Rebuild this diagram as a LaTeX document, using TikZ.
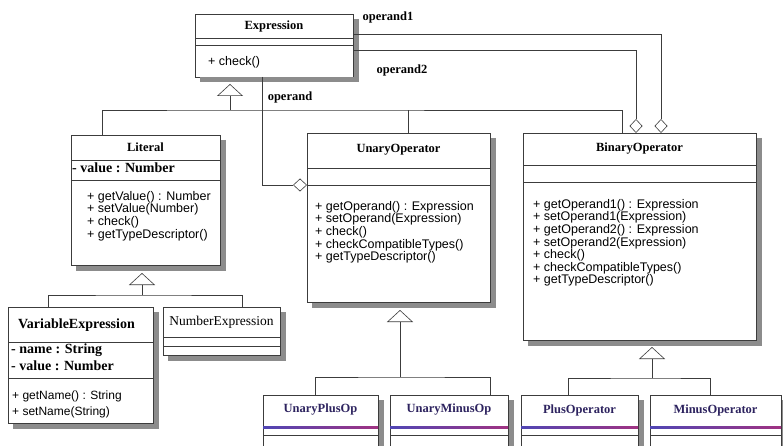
\documentclass[tikz,border=0pt]{standalone}
\usepackage{fontspec}
\setmainfont{Liberation Serif}
\setsansfont{Liberation Sans}
\usetikzlibrary{arrows.meta}

\definecolor{viiva}{RGB}{60,60,60}
\definecolor{tumma}{RGB}{45,35,95}
\definecolor{sini}{RGB}{80,70,180}
\definecolor{violetti}{RGB}{160,50,130}
\definecolor{varjo}{RGB}{140,140,140}

\begin{document}
\begin{tikzpicture}[x=1pt,y=-1pt,
  cls/.style={draw=viiva, line width=0.7pt, fill=white, inner sep=0pt, outer sep=0pt, anchor=north west},
  nimi/.style={font=\fontsize{12.5}{14}\bfseries\selectfont, inner sep=0pt},
  attr/.style={font=\fontsize{14}{17}\bfseries\selectfont, align=left, anchor=north west, inner sep=0pt},
  meto/.style={font=\fontsize{12.5}{12.6}\sffamily\selectfont, align=left, anchor=north west, inner sep=0pt},
  rooli/.style={font=\fontsize{12.5}{14}\bfseries\selectfont, inner sep=0pt},
  conn/.style={draw=viiva, line width=0.6pt},
  varjoviiva/.style={draw=varjo, line width=5pt, miter limit=10},
  gen/.style={conn, -{Triangle[open, length=12pt, width=26pt]}},
  agg/.style={conn, -{Diamond[open, length=14pt, width=13pt]}}]
\newcommand\luokka[5]{
\node[cls, minimum width=#4, minimum height=#5] (#1) at (#2,#3) {};
\draw[varjoviiva] ([xshift=3pt,yshift=-5pt]#1.north east) -- ([xshift=3pt,yshift=-3pt]#1.south east) -- ([xshift=5pt,yshift=-3pt]#1.south west);
}
\newcommand\lokero[2]{
\draw[conn] ([yshift=-#2]#1.north west) -- ([yshift=-#2]#1.north east);
}
\newcommand\vari[1]{
\shade[left color=sini, right color=violetti] ([yshift=-31.5]#1.north west) rectangle ([yshift=-33]#1.north east);
\lokero{#1}{40}
}
\clip (0,0) rectangle (783,446);
\fill[white] (0,0) rectangle (783,446);

% classes
\luokka{expr}{195}{14}{158}{63}
\luokka{lit}{71}{135}{149}{130}
\luokka{unary}{307}{133}{183}{169}
\luokka{binary}{523}{133}{233}{207}
\luokka{varexpr}{8}{307}{145}{116}
\luokka{numexpr}{163}{307}{117}{48}
\luokka{uplus}{263}{395}{115}{60}
\luokka{uminus}{390}{395}{118}{60}
\luokka{plusop}{521}{395}{117}{60}
\luokka{minusop}{650}{395}{131}{60}

\lokero{expr}{24}
\lokero{expr}{31}
\lokero{lit}{25}
\lokero{lit}{45}
\lokero{unary}{35}
\lokero{unary}{52}
\lokero{binary}{32}
\lokero{binary}{49}
\lokero{varexpr}{35}
\lokero{varexpr}{71}
\lokero{numexpr}{30}
\lokero{numexpr}{39}
\vari{uplus}
\vari{uminus}
\vari{plusop}
\vari{minusop}

% names
\node[nimi] (n1) at ([yshift=-12]expr.north) {Expression};
\node[nimi] (n2) at ([yshift=-12]lit.north) {Literal};
\node[nimi] (n3) at ([yshift=-17]unary.north) {UnaryOperator};
\node[nimi] (n4) at ([yshift=-16]binary.north) {BinaryOperator};
\node[nimi, font=\fontsize{14}{16}\bfseries\selectfont] (n5) at ([xshift=-4,yshift=-18]varexpr.north) {VariableExpression};
\node[nimi, font=\fontsize{13.5}{15}\selectfont] (n6) at ([yshift=-15]numexpr.north) {NumberExpression};
\node[nimi, text=tumma] (n7) at ([yshift=-15]uplus.north) {UnaryPlusOp};
\node[nimi, text=tumma] (n8) at ([yshift=-15]uminus.north) {UnaryMinusOp};
\node[nimi, text=tumma] (n9) at ([yshift=-15]plusop.north) {PlusOperator};
\node[nimi, text=tumma] (n10) at ([yshift=-15]minusop.north) {MinusOperator};

% members
\node[meto] (m1) at ([xshift=13,yshift=-42]expr.north west) {+ check()};
\node[attr] (a2) at ([xshift=1,yshift=-28]lit.north west) {- value : Number};
\node[meto] (m2) at ([xshift=16,yshift=-56]lit.north west) {+ getValue() : Number\\+ setValue(Number)\\+ check()\\+ getTypeDescriptor()};
\node[meto] (m3) at ([xshift=8,yshift=-68]unary.north west) {+ getOperand() : Expression\\+ setOperand(Expression)\\+ check()\\+ checkCompatibleTypes()\\+ getTypeDescriptor()};
\node[meto] (m4) at ([xshift=10,yshift=-66]binary.north west) {+ getOperand1() : Expression\\+ setOperand1(Expression)\\+ getOperand2() : Expression\\+ setOperand2(Expression)\\+ check()\\+ checkCompatibleTypes()\\+ getTypeDescriptor()};
\node[attr] (a5) at ([xshift=3,yshift=-37]varexpr.north west) {- name : String\\- value : Number};
\node[meto, font=\fontsize{12}{16}\sffamily\selectfont] (m5) at ([xshift=4,yshift=-84]varexpr.north west) {+ getName() : String\\+ setName(String)};

% generalization
\coordinate (yla) at (230,110);
\draw[conn] ([xshift=31]lit.north west) |- (yla) -| ([xshift=99]binary.north west);
\draw[conn] ([xshift=101]unary.north west) coordinate (u1) -- (u1 |- yla);
\draw[gen, shorten >=7pt] (yla) -- (yla |- expr.south);

\coordinate (ylb) at (142,295);
\draw[conn] ([xshift=40]varexpr.north west) |- (ylb) -| ([xshift=79]numexpr.north west);
\draw[gen, shorten >=8pt] (ylb) -- (ylb |- lit.south);

\coordinate (ylc) at (400,377);
\draw[conn] ([xshift=52]uplus.north west) |- (ylc) -| ([xshift=100]uminus.north west);
\draw[gen, shorten >=8pt] (ylc) -- (ylc |- unary.south);

\coordinate (yld) at (652,378);
\draw[conn] ([xshift=47]plusop.north west) |- (yld) -| ([xshift=60]minusop.north west);
\draw[gen, shorten >=7pt] (yld) -- (yld |- binary.south);

% aggregation
\draw[agg] ([xshift=67]expr.south west) |- ([yshift=-52]unary.north west);
\draw[agg] ([yshift=-20]expr.north east) -| ([xshift=138]binary.north west);
\draw[agg] ([yshift=-36]expr.north east) -| ([xshift=113]binary.north west);

\node[rooli] (r1) at (388,17) {operand1};
\node[rooli] (r2) at (402,70) {operand2};
\node[rooli] (r3) at (290,97) {operand};
\end{tikzpicture}
\end{document}
